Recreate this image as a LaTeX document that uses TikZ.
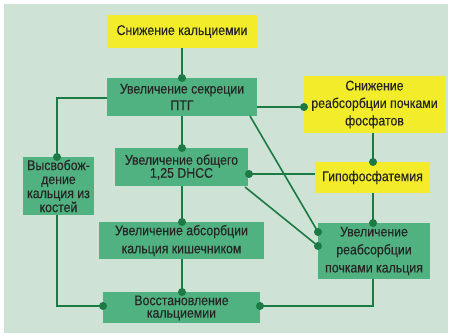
\documentclass[tikz,border=0pt]{standalone}
\usepackage{fontspec}
\setmainfont{Liberation Sans}[FakeStretch=0.88,FakeBold=0.3]
\usetikzlibrary{backgrounds}

\definecolor{paper}{RGB}{206,226,214}
\definecolor{boxgreen}{RGB}{80,178,128}
\definecolor{linkgreen}{RGB}{28,122,68}
\definecolor{hiyellow}{RGB}{242,236,42}

\begin{document}
\begin{tikzpicture}[x=1pt,y=-1pt,font=\fontsize{14}{18}\selectfont]
	  \tikzstyle{step_box}=[rectangle,fill=boxgreen,text=black!85,align=center,inner sep=0pt]
	  \tikzstyle{cause_box}=[rectangle,fill=hiyellow,text=black!85,align=center,inner sep=0pt]
	  \tikzstyle{link}=[draw=linkgreen,line width=1.6pt]

	\useasboundingbox (0,0) rectangle (450,336);
	\fill[white] (0,0) rectangle (450,336);
	\fill[paper] (4,4) rectangle (448,333);

	\node (low_ca) [cause_box,minimum width=150pt,minimum height=33pt] at (182,31.5) {Снижение кальциемии};
	\node (pth) [step_box,minimum width=150pt,minimum height=38pt,font=\fontsize{14}{16.5}\selectfont] at (182,97) {Увеличение секреции\\ПТГ};
	\node (low_phos) [cause_box,minimum width=141pt,minimum height=57pt,font=\fontsize{14}{17.5}\selectfont] at (374.5,104.5) {Снижение\\реабсорбции почками\\фосфатов};
	\node (dhcc) [step_box,minimum width=133pt,minimum height=38pt,font=\fontsize{14}{13}\selectfont] at (181.5,167) {Увеличение общего\\1,25 DHCC};
	\node (bone) [step_box,minimum width=71pt,minimum height=58pt,font=\fontsize{14}{14}\selectfont] at (58.5,186) {Высвобож-\\дение\\кальция из\\костей};
	\node (hypo) [cause_box,minimum width=115pt,minimum height=31pt] at (372.5,177.5) {Гипофосфатемия};
	\node (gut) [step_box,minimum width=165pt,minimum height=37pt] at (181.5,240.5) {Увеличение абсорбции\\кальция кишечником};
	\node (kidney) [step_box,minimum width=112pt,minimum height=56pt] at (374,251) {Увеличение\\реабсорбции\\почками кальция};
	\node (restore) [step_box,minimum width=157pt,minimum height=31pt,font=\fontsize{14}{12.5}\selectfont] at (181.5,308) {Восстановление\\кальциемии};

	% end points on the box edges
	\coordinate (ca_b) at (182,48);
	\coordinate (pth_t) at (182,78);
	\coordinate (pth_r) at (257,107);
	\coordinate (phos_l) at (304,107);
	\coordinate (pth_l) at (107,98);
	\coordinate (bone_t) at (57,157);
	\coordinate (bone_b) at (57,215);
	\coordinate (pth_b) at (182,116);
	\coordinate (dhcc_t) at (182,148);
	\coordinate (pth_d) at (250,116);
	\coordinate (kid_a) at (318,232);
	\coordinate (kid_b) at (318,246);
	\coordinate (phos_b) at (373,133);
	\coordinate (hypo_t) at (373,162);
	\coordinate (hypo_b) at (373,193);
	\coordinate (kid_t) at (373,223);
	\coordinate (kid_d) at (373,279);
	\coordinate (hypo_l) at (315,174);
	\coordinate (dhcc_r) at (249,174);
	\coordinate (dhcc_d) at (245,187);
	\coordinate (dhcc_b) at (182,186);
	\coordinate (gut_t) at (182,222);
	\coordinate (gut_b) at (182,259);
	\coordinate (rest_t) at (182,292);
	\coordinate (rest_l) at (103,306);
	\coordinate (rest_r) at (260,306);

	\draw[link] (ca_b) -- (pth_t);
	\draw[link] (pth_r) -- (phos_l);
	\draw[link] (pth_l) -| (bone_t);
	\draw[link] (pth_b) -- (dhcc_t);
	\draw[link] (pth_d) -- (kid_a);
	\draw[link] (phos_b) -- (hypo_t);
	\draw[link] (hypo_l) -- (dhcc_r);
	\draw[link] (dhcc_d) -- (kid_b);
	\draw[link] (hypo_b) -- (kid_t);
	\draw[link] (dhcc_b) -- (gut_t);
	\draw[link] (gut_b) -- (rest_t);
	\draw[link] (bone_b) |- (rest_l);
	\draw[link] (kid_d) |- (rest_r);

	% dots where the links meet the boxes
	\foreach \dot in {pth_t,phos_l,bone_t,dhcc_t,kid_a,hypo_t,dhcc_r,kid_b,kid_t,gut_t,rest_t,rest_l,rest_r}
		\fill[linkgreen] (\dot) circle (4pt);
	\end{tikzpicture}
\end{document}
